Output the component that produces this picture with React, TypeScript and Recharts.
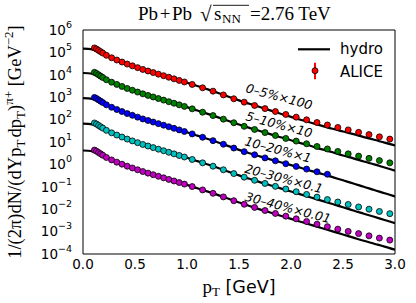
import React from "react";
import {
  ComposedChart,
  Line,
  Scatter,
  XAxis,
  YAxis,
  Legend,
  ReferenceDot,
  Label,
} from "recharts";

// ALICE pT bin centres [GeV]
const ptBins = [
  0.11, 0.13, 0.15, 0.17, 0.19, 0.225, 0.275, 0.325, 0.375, 0.425, 0.475,
  0.525, 0.575, 0.625, 0.675, 0.725, 0.775, 0.825, 0.875, 0.925, 0.975, 1.05,
  1.15, 1.25, 1.35, 1.45, 1.55, 1.65, 1.75, 1.85, 1.95, 2.05, 2.15, 2.25, 2.35,
  2.45, 2.55, 2.65, 2.75, 2.85, 2.95,
];

// ALICE yields, log10 (scaled as in the labels)
const alice0_5 = [
  5.2, 5.15, 5.09, 5.03, 4.97, 4.87, 4.76, 4.66, 4.57, 4.48, 4.4, 4.32, 4.24,
  4.17, 4.1, 4.03, 3.96, 3.89, 3.82, 3.75, 3.68, 3.57, 3.42, 3.27, 3.1, 2.93,
  2.78, 2.63, 2.49, 2.36, 2.23, 2.11, 1.99, 1.87, 1.76, 1.65, 1.54, 1.43, 1.33,
  1.23, 1.13,
];
const alice5_10 = [
  4.11, 4.06, 4.0, 3.94, 3.88, 3.78, 3.67, 3.57, 3.48, 3.39, 3.31, 3.23, 3.15,
  3.08, 3.01, 2.94, 2.87, 2.8, 2.73, 2.66, 2.59, 2.48, 2.33, 2.18, 2.02, 1.86,
  1.7, 1.56, 1.42, 1.29, 1.16, 1.04, 0.92, 0.8, 0.69, 0.58, 0.47, 0.37, 0.27,
  0.17, 0.07,
];
const alice10_20 = [
  2.99, 2.94, 2.88, 2.82, 2.76, 2.66, 2.55, 2.45, 2.36, 2.27, 2.19, 2.11, 2.03,
  1.96, 1.89, 1.82, 1.75, 1.68, 1.61, 1.54, 1.47, 1.36, 1.21, 1.06, 0.9, 0.73,
  0.57, 0.43, 0.29, 0.16, 0.03, -0.09, -0.21, -0.33, -0.44,
];
const alice20_30 = [
  1.85, 1.8, 1.74, 1.68, 1.62, 1.52, 1.41, 1.31, 1.22, 1.13, 1.05, 0.97, 0.89,
  0.82, 0.75, 0.68, 0.61, 0.54, 0.47, 0.4, 0.33, 0.22, 0.07, -0.08, -0.24,
  -0.41, -0.57, -0.71, -0.85, -0.98, -1.1, -1.22, -1.34, -1.46, -1.57, -1.68,
  -1.79, -1.9, -2.0, -2.1, -2.2,
];
const alice30_40 = [
  0.64, 0.59, 0.53, 0.47, 0.41, 0.31, 0.2, 0.1, 0.01, -0.08, -0.16, -0.24,
  -0.32, -0.39, -0.46, -0.53, -0.6, -0.67, -0.74, -0.81, -0.88, -0.99, -1.14,
  -1.29, -1.45, -1.62, -1.78, -1.92, -2.06, -2.19, -2.31, -2.43, -2.55, -2.67,
  -2.78, -2.89, -2.99, -3.09, -3.19, -3.29, -3.38,
];

// hydro curves, log10
const hydroPt = [
  0, 0.05, 0.1, 0.15, 0.2, 0.3, 0.4, 0.5, 0.6, 0.7, 0.8, 0.9, 1.0, 1.1, 1.2,
  1.3, 1.4, 1.5, 1.6, 1.7, 1.8, 1.9, 2.0, 2.1, 2.2, 2.3, 2.4, 2.5, 2.6, 2.7,
  2.8, 2.9, 3.0,
];
const hydro0_5 = [
  5.17, 5.16, 5.12, 5.05, 4.95, 4.72, 4.53, 4.36, 4.21, 4.07, 3.93, 3.79, 3.645,
  3.5, 3.35, 3.19, 3.02, 2.86, 2.71, 2.56, 2.41, 2.26, 2.12, 1.98, 1.85, 1.72,
  1.59, 1.47, 1.35, 1.22, 1.1, 0.97, 0.85,
];
const hydro5_10 = [
  4.08, 4.07, 4.03, 3.96, 3.86, 3.63, 3.435, 3.27, 3.115, 2.975, 2.835, 2.695,
  2.555, 2.405, 2.255, 2.1, 1.94, 1.78, 1.63, 1.49, 1.35, 1.21, 1.08, 0.94,
  0.81, 0.67, 0.54, 0.4, 0.27, 0.13, 0.0, -0.14, -0.28,
];
const hydro10_20 = [
  2.96, 2.95, 2.91, 2.84, 2.74, 2.5, 2.315, 2.15, 1.995, 1.855, 1.715, 1.575,
  1.435, 1.285, 1.135, 0.98, 0.815, 0.65, 0.5, 0.36, 0.225, 0.095, -0.03,
  -0.16, -0.3, -0.43, -0.57, -0.71, -0.85, -1.0, -1.14, -1.29, -1.43,
];
const hydro20_30 = [
  1.82, 1.81, 1.77, 1.7, 1.6, 1.36, 1.175, 1.01, 0.855, 0.715, 0.575, 0.435,
  0.295, 0.145, -0.005, -0.16, -0.325, -0.49, -0.64, -0.79, -0.93, -1.07,
  -1.21, -1.35, -1.49, -1.63, -1.77, -1.91, -2.06, -2.2, -2.34, -2.48, -2.62,
];
const hydro30_40 = [
  0.62, 0.61, 0.57, 0.5, 0.4, 0.15, -0.035, -0.2, -0.355, -0.495, -0.635,
  -0.775, -0.915, -1.065, -1.215, -1.37, -1.535, -1.7, -1.86, -2.01, -2.15,
  -2.29, -2.43, -2.57, -2.71, -2.85, -2.99, -3.13, -3.27, -3.41, -3.54, -3.67,
  -3.81,
];

const labels = ["0–5%×100", "5–10%×10", "10–20%×1", "20–30%×0.1", "30–40%×0.01"];
const colors = ["#ff0000", "#008000", "#0000ff", "#00bfbf", "#bf00bf"];
// where the centrality labels sit (pT, log10 y)
const labelPt = [1.885, 1.885, 1.875, 1.93, 1.97];
const labelY = [3.01, 1.76, 0.64, -0.65, -1.95];

const xMajor = [0, 0.5, 1.0, 1.5, 2.0, 2.5, 3.0];
const xMinor = [
  0.1, 0.2, 0.3, 0.4, 0.6, 0.7, 0.8, 0.9, 1.1, 1.2, 1.3, 1.4, 1.6, 1.7, 1.8,
  1.9, 2.1, 2.2, 2.3, 2.4, 2.6, 2.7, 2.8, 2.9,
];
const yDecades = [-4, -3, -2, -1, 0, 1, 2, 3, 4, 5, 6];
const yMinor: number[] = [];
yDecades.slice(0, -1).forEach((d) => {
  for (let k = 2; k <= 9; k++) yMinor.push(d + Math.log10(k));
});

const aliceSets = [alice0_5, alice5_10, alice10_20, alice20_30, alice30_40];
const hydroSets = [hydro0_5, hydro5_10, hydro10_20, hydro20_30, hydro30_40];

const SANS = "DejaVu Sans";
const SERIF = "Liberation Serif";

const XTick = ({ x, y, payload }: any) => (
  <text x={x} y={y + 15} textAnchor="middle" fontFamily={SANS} fontSize={13.5} fill="#000">
    {payload.value.toFixed(1)}
  </text>
);

const YTick = ({ x, y, payload }: any) => (
  <text x={x} y={y} textAnchor="end" fontFamily={SANS} fontSize={13.5} fill="#000">
    <tspan dy={4.8}>10</tspan>
    <tspan dy={-7} fontSize={9.5}>
      {String(payload.value).replace("-", "\u2212")}
    </tspan>
  </text>
);

const XLabel = ({ viewBox }: any) => {
  const cx = viewBox.x + viewBox.width / 2;
  return (
    <g>
      <text x={cx} y={293} textAnchor="middle" fill="#000">
        <tspan fontFamily={SERIF} fontSize={19}>p</tspan>
        <tspan fontFamily={SERIF} fontSize={13} dy={3}>T</tspan>
        <tspan fontFamily={SANS} fontSize={17.5} dy={-3}>{"  [GeV]"}</tspan>
      </text>
      {/* title */}
      <g fontFamily={SERIF} fill="#000">
        <text x={138} y={20} fontSize={19}>{"Pb\u200A+\u200APb"}</text>
        <text x={200} y={21} fontSize={21}>{"\u221A"}</text>
        <text x={214} y={20} fontSize={19}>s</text>
        <text x={222} y={23} fontSize={13}>NN</text>
        <text x={250} y={20} fontSize={19}>{"=2.76 TeV"}</text>
      </g>
      <line x1={213} x2={249} y1={5.3} y2={5.3} stroke="#000" strokeWidth={0.9} />
    </g>
  );
};

const YLabel = () => (
  <text
    transform="translate(21,142) rotate(-90)"
    textAnchor="middle"
    fontFamily={SERIF}
    fontSize={18.5}
    fill="#000"
  >
    <tspan>1/(2π)dN/(dY</tspan>
    <tspan dx={2}>p</tspan>
    <tspan dy={4} fontSize={13}>T</tspan>
    <tspan dy={-4} dx={2}>dp</tspan>
    <tspan dy={4} fontSize={13}>T</tspan>
    <tspan dy={-4}>)</tspan>
    <tspan dy={-8} fontSize={13}>π+</tspan>
    <tspan dy={8}>{"  [GeV"}</tspan>
    <tspan dy={-8} fontSize={13}>−2</tspan>
    <tspan dy={8}>]</tspan>
  </text>
);

const LegendBox = () => (
  <svg width={112} height={46}>
    <line x1={8} x2={40} y1={11.3} y2={11.3} stroke="#000" strokeWidth={2.2} />
    <text x={50} y={15.5} fontFamily={SANS} fontSize={15} fill="#000">
      hydro
    </text>
    <line x1={25} x2={25} y1={24.7} y2={41.3} stroke="#ff0000" strokeWidth={2} />
    <circle cx={25} cy={32.7} r={3} fill="#ff0000" stroke="#000" strokeWidth={0.8} />
    <text x={50} y={38.5} fontFamily={SANS} fontSize={15} fill="#000">
      ALICE
    </text>
  </svg>
);

const App = () => {
  const aliceData = aliceSets.map((set) =>
    set.map((v, i) => ({ pt: ptBins[i], y: v }))
  );
  const hydroData = hydroSets.map((set) =>
    set.map((v, i) => ({ pt: hydroPt[i], y: v }))
  );

  const tickAxis = { type: "number" as const, dataKey: "pt", domain: [0, 3], allowDataOverflow: true };
  const tickYAxis = { type: "number" as const, domain: [-4, 6], allowDataOverflow: true };

  return (
    <div style={{ position: "absolute", left: 0, top: 0, width: 416, height: 303, background: "#fff" }}>
      <ComposedChart width={416} height={303} margin={{ top: 30, right: 21, bottom: 0, left: 0 }}>
        <XAxis
          {...tickAxis}
          orientation="bottom"
          height={49}
          ticks={xMajor}
          interval={0}
          tickSize={0}
          tickMargin={0}
          tickLine={false}
          axisLine={{ stroke: "#000", strokeWidth: 1 }}
          tick={<XTick />}
          label={<Label content={<XLabel />} />}
        />
        <XAxis {...tickAxis} xAxisId="bMaj" orientation="bottom" mirror ticks={xMajor} interval={0} tickSize={5} tick={false} axisLine={false} tickLine={{ stroke: "#000" }} />
        <XAxis {...tickAxis} xAxisId="bMin" orientation="bottom" mirror ticks={xMinor} interval={0} tickSize={2.5} tick={false} axisLine={false} tickLine={{ stroke: "#000" }} />
        <XAxis {...tickAxis} xAxisId="tMaj" orientation="top" mirror ticks={xMajor} interval={0} tickSize={5} tick={false} axisLine={{ stroke: "#000" }} tickLine={{ stroke: "#000" }} />
        <XAxis {...tickAxis} xAxisId="tMin" orientation="top" mirror ticks={xMinor} interval={0} tickSize={2.5} tick={false} axisLine={false} tickLine={{ stroke: "#000" }} />

        <YAxis
          {...tickYAxis}
          width={83}
          ticks={yDecades}
          interval={0}
          tickSize={0}
          tickMargin={11}
          tickLine={false}
          axisLine={{ stroke: "#000", strokeWidth: 1 }}
          tick={<YTick />}
          label={<Label content={<YLabel />} />}
        />
        <YAxis {...tickYAxis} yAxisId="lMaj" orientation="left" mirror ticks={yDecades} interval={0} tickSize={5} tick={false} axisLine={false} tickLine={{ stroke: "#000" }} />
        <YAxis {...tickYAxis} yAxisId="lMin" orientation="left" mirror ticks={yMinor} interval={0} tickSize={2.5} tick={false} axisLine={false} tickLine={{ stroke: "#000" }} />
        <YAxis {...tickYAxis} yAxisId="rMaj" orientation="right" mirror ticks={yDecades} interval={0} tickSize={5} tick={false} axisLine={{ stroke: "#000" }} tickLine={{ stroke: "#000" }} />
        <YAxis {...tickYAxis} yAxisId="rMin" orientation="right" mirror ticks={yMinor} interval={0} tickSize={2.5} tick={false} axisLine={false} tickLine={{ stroke: "#000" }} />

        {hydroData.map((d, i) => (
          <Line
            key={"h" + i}
            data={d}
            dataKey="y"
            type="monotone"
            stroke="#000"
            strokeWidth={2.2}
            dot={false}
            activeDot={false}
            isAnimationActive={false}
            legendType="none"
          />
        ))}
        {aliceData.map((d, i) => (
          <Scatter
            key={"a" + i}
            data={d}
            dataKey="y"
            isAnimationActive={false}
            legendType="none"
            shape={(p: any) => (
              <circle cx={p.cx} cy={p.cy} r={3} fill={colors[i]} stroke="#000" strokeWidth={0.8} />
            )}
          />
        ))}

        {labels.map((t, i) => (
          <ReferenceDot
            key={"l" + i}
            x={labelPt[i]}
            y={labelY[i]}
            r={0}
            shape={(p: any) => (
              <text
                transform={`translate(${p.cx},${p.cy}) rotate(15)`}
                textAnchor="middle"
                dy={4}
                fontFamily={SANS}
                fontStyle="italic"
                fontSize={12.5}
                fill="#000"
              >
                {t}
              </text>
            )}
          />
        ))}

        <Legend
          layout="vertical"
          align="center"
          verticalAlign="middle"
          wrapperStyle={{ position: "absolute", left: 290, top: 38, width: 112, height: 46 }}
          content={() => <LegendBox />}
        />
      </ComposedChart>
    </div>
  );
};

export default App;
